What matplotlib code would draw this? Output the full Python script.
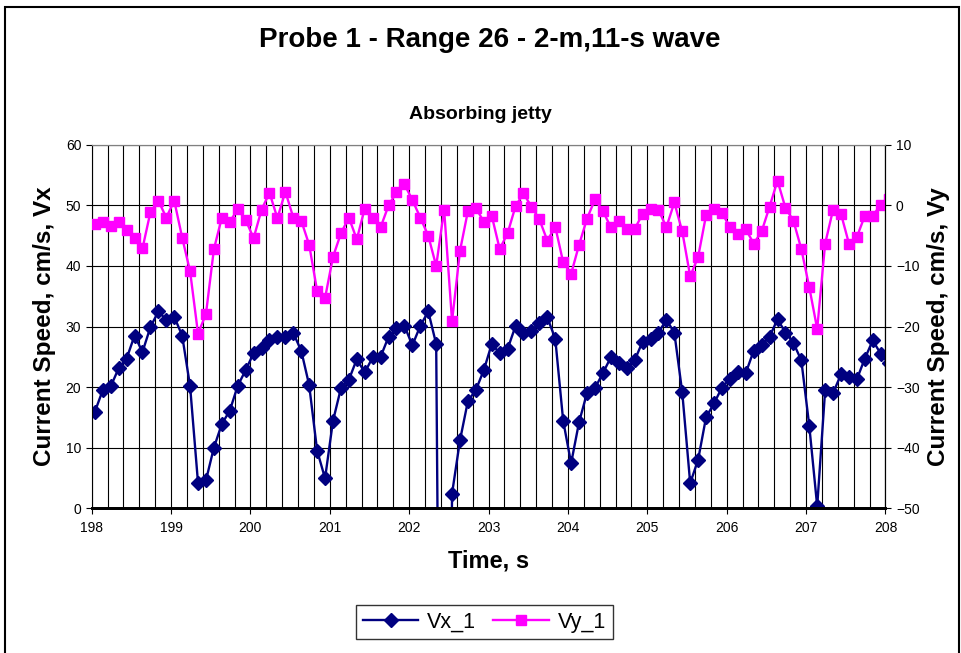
import numpy as np
import matplotlib
matplotlib.use("Agg")
import matplotlib.pyplot as plt
from matplotlib.patches import Rectangle

plt.rcParams['font.family'] = ['Liberation Sans', 'DejaVu Sans']

# sampling: 0.1 s steps starting just after 198 s
t0 = 198.04
dt = 0.1

vx = [15.9, 19.5, 20.1, 23.1, 24.7, 28.5, 25.8, 29.9, 32.5, 31.1,
      31.6, 28.5, 20.1, 4.1, 4.6, 10.0, 13.9, 16.1, 20.2, 22.8,
      25.6, 26.4, 27.8, 28.2, 28.2, 28.9, 26.0, 20.3, 9.5, 4.9,
      14.4, 19.8, 21.2, 24.6, 22.4, 24.9, 25.0, 28.3, 29.7, 30.1,
      26.9, 30.1, 32.5, 27.1, -140.0, 2.4, 11.2, 17.7, 19.5, 22.8,
      27.1, 25.6, 26.3, 30.1, 29.0, 29.3, 30.6, 31.5, 28.0, 14.4,
      7.4, 14.2, 19.0, 19.8, 22.3, 24.9, 24.0, 23.2, 24.4, 27.5,
      27.9, 29.0, 31.1, 29.0, 19.1, 4.1, 8.0, 15.0, 17.3, 19.9,
      21.4, 22.5, 22.3, 26.0, 26.9, 28.3, 31.2, 29.0, 27.3, 24.4,
      13.6, 0.3, 19.5, 19.0, 22.1, 21.6, 21.3, 24.7, 27.7, 25.5,
      23.9]

vy = [-3.1, -2.8, -3.4, -2.8, -4.1, -5.4, -7.1, -1.1, 0.8, -2.0,
      0.8, -5.3, -10.9, -21.2, -17.9, -7.2, -2.0, -2.7, -0.6, -2.4,
      -5.4, -0.7, 2.1, -2.1, 2.3, -2.0, -2.5, -6.5, -14.1, -15.3,
      -8.5, -4.6, -2.0, -5.6, -0.5, -2.1, -3.6, 0.0, 2.2, 3.5,
      0.9, -2.0, -5.0, -10.0, -0.7, -19.1, -7.5, -0.9, -0.4, -2.7,
      -1.7, -7.2, -4.6, -0.1, 2.0, -0.2, -2.3, -5.8, -3.5, -9.4,
      -11.3, -6.5, -2.2, 1.0, -0.9, -3.6, -2.5, -3.9, -3.9, -1.4,
      -0.5, -0.7, -3.6, 0.5, -4.3, -11.7, -8.5, -1.6, -0.5, -1.2,
      -3.6, -4.7, -3.9, -6.3, -4.3, -0.2, 4.1, -0.4, -2.5, -7.2,
      -13.5, -20.4, -6.3, -0.7, -1.4, -6.3, -5.2, -1.7, -1.7, 0.1,
      1.0]

t = t0 + dt * np.arange(len(vx))

fig = plt.figure(figsize=(9.61, 6.53), dpi=100)
ax = fig.add_axes([0.0954, 0.222, 0.8260, 0.556])
ax2 = ax.twinx()

ax.set_xlim(198, 208)
ax.set_ylim(0, 60)
ax2.set_ylim(-50, 10)

ax.set_xticks(np.arange(198, 209, 1))
ax.set_xticks(np.arange(198, 208.01, 0.2), minor=True)
ax.set_yticks(np.arange(0, 61, 10))
ax2.set_yticks(np.arange(-50, 11, 10))
ax.grid(True, which='both', axis='x', color='black', lw=0.8)
ax.grid(True, which='major', axis='y', color='black', lw=0.8)
ax.set_axisbelow(True)
ax.tick_params(axis='x', which='minor', length=0)
ax.tick_params(axis='x', which='major', length=4, labelsize=10, pad=5)
ax.tick_params(axis='y', length=4, labelsize=10)
ax2.tick_params(axis='y', length=4, labelsize=10)

l1, = ax.plot(t, vx, color='#000080', lw=1.7, marker='D', ms=7,
              label='Vx_1', clip_on=True)
l2, = ax2.plot(t, vy, color='#FF00FF', lw=1.7, marker='s', ms=7.5,
               label='Vy_1', clip_on=True)

for a in (ax, ax2):
    a.spines['top'].set_color('#808080')
    a.spines['bottom'].set_linewidth(2)
ax2.spines['left'].set_visible(False)

ax.set_xlabel('Time, s', fontsize=17, fontweight='bold', labelpad=11)
ax.set_ylabel('Current Speed, cm/s, Vx', fontsize=17.5, fontweight='bold', labelpad=7)
ax2.set_ylabel('Current Speed, cm/s, Vy', fontsize=17.5, fontweight='bold', labelpad=5)

fig.text(0.51, 0.938, 'Probe 1 - Range 26 - 2-m,11-s wave', ha='center', va='center',
         fontsize=20, fontweight='bold')
fig.text(0.5, 0.824, 'Absorbing jetty', ha='center', va='center',
         fontsize=14, fontweight='bold')

leg = fig.legend(handles=[l1, l2], loc='center', bbox_to_anchor=(0.504, 0.047),
                 ncol=2, fontsize=15.5, frameon=True, fancybox=False,
                 handlelength=2.6, columnspacing=0.8, handletextpad=0.4,
                 borderpad=0.3, borderaxespad=0)
leg.get_frame().set_edgecolor('black')
leg.get_frame().set_linewidth(1)

fig.patches.append(Rectangle((0.005, -0.05), 0.993, 1.04, transform=fig.transFigure,
                             fill=False, edgecolor='black', lw=1.5))

fig.savefig('out.png', dpi=100)
